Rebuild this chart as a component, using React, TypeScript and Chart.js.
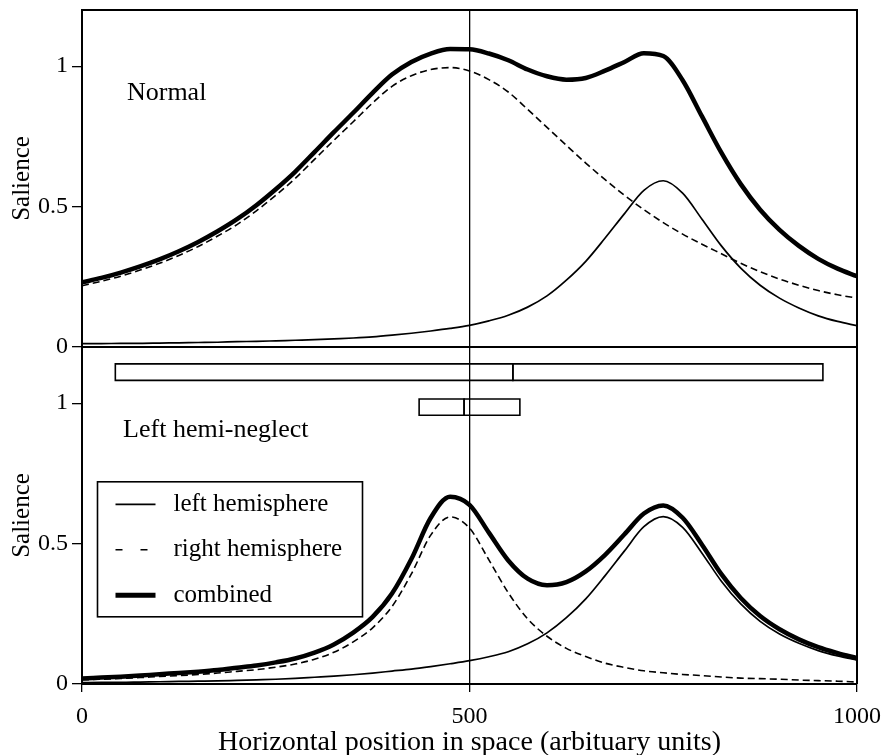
import { useEffect, useRef } from "react";
import { Chart, registerables } from "chart.js";

Chart.register(...registerables);

// Horizontal positions at which the salience curves are sampled
const positions = [
  0, 25, 50, 75, 100, 125, 150, 175, 200, 225,
  250, 275, 300, 325, 350, 375, 400, 425, 450, 475,
  500, 525, 550, 575, 600, 625, 650, 675, 700, 725,
  750, 775, 800, 825, 850, 875, 900, 925, 950, 975,
  1000,
];

// Normal observer
const normalLeft = [
  0.012, 0.012, 0.013, 0.013, 0.014, 0.015, 0.016, 0.017, 0.019, 0.020,
  0.022, 0.024, 0.026, 0.029, 0.032, 0.036, 0.042, 0.049, 0.057, 0.066,
  0.077, 0.093, 0.113, 0.142, 0.182, 0.238, 0.305, 0.388, 0.475, 0.558,
  0.592, 0.548, 0.455, 0.360, 0.281, 0.220, 0.174, 0.139, 0.111, 0.091,
  0.076,
];
const normalRight = [
  0.218, 0.234, 0.252, 0.274, 0.298, 0.326, 0.358, 0.395, 0.436, 0.485,
  0.540, 0.600, 0.668, 0.736, 0.802, 0.869, 0.928, 0.966, 0.988, 0.995,
  0.983, 0.952, 0.908, 0.846, 0.782, 0.718, 0.655, 0.596, 0.540, 0.489,
  0.443, 0.402, 0.366, 0.332, 0.298, 0.268, 0.242, 0.220, 0.201, 0.186,
  0.174,
];
const normalCombined = [
  0.230, 0.246, 0.265, 0.287, 0.312, 0.341, 0.374, 0.412, 0.455, 0.505,
  0.562, 0.624, 0.694, 0.765, 0.834, 0.905, 0.970, 1.015, 1.045, 1.061,
  1.060, 1.045, 1.021, 0.988, 0.964, 0.952, 0.958, 0.984, 1.015, 1.046,
  1.036, 0.950, 0.821, 0.692, 0.580, 0.489, 0.417, 0.360, 0.314, 0.279,
  0.252,
];

// Left hemi-neglect
const neglectLeft = [
  0.005, 0.006, 0.006, 0.007, 0.008, 0.009, 0.010, 0.011, 0.013, 0.015,
  0.017, 0.020, 0.024, 0.028, 0.033, 0.039, 0.046, 0.053, 0.062, 0.072,
  0.083, 0.097, 0.115, 0.143, 0.182, 0.236, 0.303, 0.386, 0.474, 0.560,
  0.596, 0.558, 0.466, 0.366, 0.285, 0.223, 0.178, 0.145, 0.119, 0.100,
  0.085,
];
const neglectRight = [
  0.015, 0.017, 0.020, 0.023, 0.027, 0.030, 0.034, 0.039, 0.045, 0.051,
  0.060, 0.071, 0.088, 0.113, 0.150, 0.200, 0.276, 0.392, 0.530, 0.595,
  0.555, 0.442, 0.325, 0.232, 0.170, 0.127, 0.098, 0.074, 0.059, 0.047,
  0.040, 0.034, 0.030, 0.025, 0.021, 0.019, 0.017, 0.014, 0.012, 0.010,
  0.007,
];
const neglectCombined = [
  0.020, 0.023, 0.026, 0.030, 0.035, 0.039, 0.044, 0.050, 0.058, 0.066,
  0.077, 0.091, 0.112, 0.141, 0.183, 0.239, 0.322, 0.445, 0.592, 0.667,
  0.638, 0.539, 0.440, 0.375, 0.352, 0.363, 0.401, 0.460, 0.533, 0.607,
  0.636, 0.592, 0.496, 0.391, 0.306, 0.242, 0.195, 0.159, 0.131, 0.110,
  0.092,
];

// Split range bars in the neglect panel: [start, split, end] at heights [low, high]
const spanStart = [43, 435];
const spanSplit = [556, 493];
const spanEnd = [956, 565];
const spanLow = [1.081, 0.957];
const spanHigh = [1.14, 1.015];

const xTicks = [0, 500, 1000];
const yTicks = [0, 0.5, 1];
const panelTitles = ["Normal", "Left hemi-neglect"];
const legendLabels = ["left hemisphere", "right hemisphere", "combined"];
const xTitle = "Horizontal position in space (arbituary units)";
const yTitle = "Salience";

const FONT = "'Liberation Serif', 'Times New Roman', Times, serif";
const INK = "#000";

const toPoints = (ys: number[]) => positions.map((x, i) => ({ x, y: ys[i] }));

const curve = (ys: number[], axis: string, width: number, dash: number[] = []) => ({
  data: toPoints(ys),
  yAxisID: axis,
  borderColor: INK,
  borderWidth: width,
  borderDash: dash,
  pointRadius: 0,
  cubicInterpolationMode: "monotone" as const,
  fill: false,
});

const spanBoxes = spanStart.flatMap((s, i) =>
  [
    [s, spanSplit[i]],
    [spanSplit[i], spanEnd[i]],
  ].map(([a, b]) => ({
    data: [
      { x: a, y: spanLow[i] },
      { x: b, y: spanLow[i] },
      { x: b, y: spanHigh[i] },
      { x: a, y: spanHigh[i] },
      { x: a, y: spanLow[i] },
    ],
    yAxisID: "yBottom",
    borderColor: INK,
    borderWidth: 1.6,
    borderCapStyle: "square" as const,
    borderJoinStyle: "miter" as const,
    pointRadius: 0,
    tension: 0,
    fill: false,
  }))
);

const THIN = 1.7;
const DASHED = 1.6;
const THICK = 4.5;
const CURVE_DASH = [7, 4];

// Frame, divider, panel captions and the boxed key
const panelDecor = {
  id: "panelDecor",
  afterDatasetsDraw(chart: any) {
    const { ctx, chartArea: a, scales } = chart;
    const x = scales.x;
    const yT = scales.yTop;
    const yB = scales.yBottom;
    ctx.save();
    ctx.strokeStyle = INK;
    ctx.fillStyle = INK;
    ctx.lineWidth = 2;
    ctx.setLineDash([]);
    ctx.beginPath();
    ctx.moveTo(a.left, a.top);
    ctx.lineTo(a.right, a.top);
    ctx.lineTo(a.right, a.bottom);
    ctx.moveTo(a.left, yT.bottom);
    ctx.lineTo(a.right, yT.bottom);
    ctx.stroke();

    ctx.font = `26px ${FONT}`;
    ctx.textBaseline = "alphabetic";
    ctx.textAlign = "left";
    ctx.fillText(panelTitles[0], x.getPixelForValue(58), yT.getPixelForValue(0.88));
    ctx.fillText(panelTitles[1], x.getPixelForValue(53), yB.getPixelForValue(0.88));

    const left = x.getPixelForValue(20);
    const top = yB.getPixelForValue(0.72);
    const w = 265;
    const h = 135;
    ctx.lineWidth = 1.6;
    ctx.strokeRect(left, top, w, h);

    const rowGap = 45.5;
    const firstRow = top + 22.5;
    const sx0 = left + 18;
    const sx1 = left + 58;
    const styles = [
      { width: THIN, dash: [] as number[] },
      { width: DASHED, dash: [7, 18] },
      { width: THICK + 0.4, dash: [] as number[] },
    ];
    ctx.font = `25px ${FONT}`;
    ctx.textBaseline = "middle";
    legendLabels.forEach((label, i) => {
      const cy = firstRow + i * rowGap;
      ctx.lineWidth = styles[i].width;
      ctx.setLineDash(styles[i].dash);
      ctx.beginPath();
      ctx.moveTo(sx0, cy);
      ctx.lineTo(sx1, cy);
      ctx.stroke();
      ctx.setLineDash([]);
      ctx.fillText(label, left + 76, cy);
    });
    ctx.restore();
  },
};

const panelAxis = () => ({
  type: "linear" as const,
  position: "left" as const,
  stack: "panels",
  stackWeight: 1,
  min: 0,
  max: 1.2,
  afterBuildTicks: (s: any) => {
    s.ticks = yTicks.map((v) => ({ value: v }));
  },
  afterFit: (s: any) => {
    s.width = 82;
    s.paddingTop = 0;
    s.paddingBottom = 0;
  },
  grid: { drawOnChartArea: false, drawTicks: true, tickLength: 10, color: INK, lineWidth: 1.3 },
  border: { display: true, color: INK, width: 2 },
  ticks: { color: INK, font: { family: FONT, size: 24 }, padding: 4, callback: (v: any) => String(v) },
  title: {
    display: true,
    text: yTitle,
    color: INK,
    font: { family: FONT, size: 25, lineHeight: 1.2 },
    padding: { top: 7, bottom: 0 },
  },
});

export default function App() {
  const ref = useRef<HTMLCanvasElement>(null);

  useEffect(() => {
    const chart = new Chart(ref.current as HTMLCanvasElement, {
      type: "line",
      data: {
        datasets: [
          curve(normalCombined, "yTop", THICK),
          curve(normalLeft, "yTop", THIN),
          curve(normalRight, "yTop", DASHED, CURVE_DASH),
          curve(neglectCombined, "yBottom", THICK),
          curve(neglectLeft, "yBottom", THIN),
          curve(neglectRight, "yBottom", DASHED, CURVE_DASH),
          ...spanBoxes,
        ] as any,
      },
      options: {
        animation: false,
        responsive: false,
        devicePixelRatio: 1,
        events: [],
        layout: { padding: { top: 10, right: 24, left: 0, bottom: 0 } },
        plugins: { legend: { display: false }, tooltip: { enabled: false } },
        scales: {
          x: {
            type: "linear",
            min: 0,
            max: 1000,
            afterBuildTicks: (s: any) => {
              s.ticks = xTicks.map((v) => ({ value: v }));
            },
            afterFit: (s: any) => {
              s.height = 71;
              s.paddingLeft = 0;
              s.paddingRight = 0;
            },
            grid: { color: INK, lineWidth: 1.3, tickLength: 8, drawOnChartArea: true },
            border: { display: true, color: INK, width: 2 },
            ticks: {
              color: INK,
              font: { family: FONT, size: 24 },
              padding: 10,
              maxRotation: 0,
              autoSkip: false,
              callback: (v: any) => String(v),
            },
            title: {
              display: true,
              text: xTitle,
              color: INK,
              font: { family: FONT, size: 28, lineHeight: 0.86 },
              padding: 0,
            },
          },
          yBottom: panelAxis(),
          yTop: panelAxis(),
        } as any,
      },
      plugins: [panelDecor],
    });
    return () => chart.destroy();
  }, []);

  return (
    <div style={{ position: "fixed", left: 0, top: 0, width: 881, height: 755, background: "#fff" }}>
      <canvas ref={ref} width={881} height={755} style={{ display: "block" }} />
    </div>
  );
}
